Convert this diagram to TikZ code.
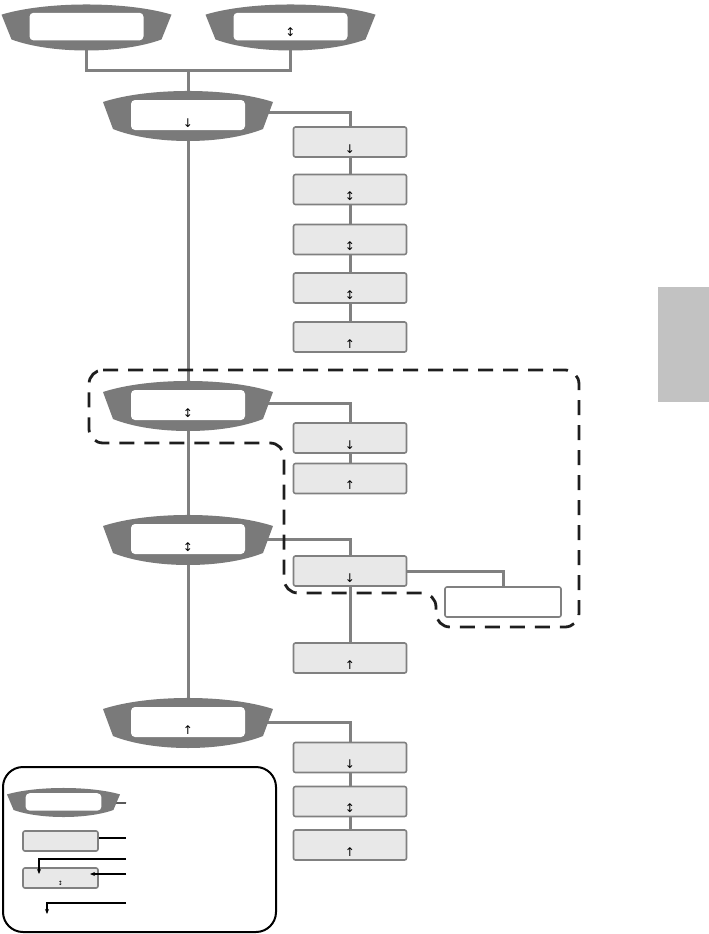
\documentclass[tikz,border=0pt]{standalone}
\usepackage{fontspec}
\setmainfont{DejaVu Sans}
\usetikzlibrary{calc,arrows.meta}
\pgfdeclarelayer{bg}
\pgfdeclarelayer{mid}
\pgfsetlayers{bg,mid,main}
\definecolor{dispgray}{RGB}{122,122,122}
\definecolor{linegray}{RGB}{128,128,128}
\definecolor{boxfill}{RGB}{232,232,232}
\definecolor{tabgray}{RGB}{194,194,194}
\definecolor{dashcol}{RGB}{30,30,30}
\newcommand\dispshape[3]{%
  \begin{scope}[shift={(#1.center)},xscale=#2,yscale=#3]
    \fill[dispgray] (-85,-14) .. controls (-40,-28.7) and (40,-28.7) .. (85,-14)
      -- (75,13) .. controls (35,29) and (-35,29) .. (-75,13) -- cycle;
    \fill[white,rounded corners=4pt] (-57,-16) rectangle (57,14);
  \end{scope}}
\newcommand\arr[1]{\raisebox{-11pt}[0pt][0pt]{#1}}
\newcommand\smarr[1]{\raisebox{-7pt}[0pt][0pt]{#1}}
\tikzset{
  dispnode/.style={rectangle, inner sep=0pt, minimum width=170pt, minimum height=50pt, font=\fontsize{12}{12}\selectfont},
  menubox/.style={rectangle, rounded corners=2pt, draw=linegray, line width=1.6pt, fill=boxfill, minimum width=113pt, minimum height=30pt, inner sep=0pt, font=\fontsize{12}{12}\selectfont},
  subbox/.style={menubox, fill=white, minimum width=116pt},
  conn/.style={draw=linegray, line width=3pt},
  legline/.style={draw=black, line width=1.2pt},
  legarrow/.style={legline, -{Stealth[length=5pt,width=4pt]}},
  dashframe/.style={draw=dashcol, line width=2.8pt, dash pattern=on 15pt off 10pt, rounded corners=14pt},
}
\begin{document}
\begin{tikzpicture}[x=1pt,y=-1pt]
\useasboundingbox (0,0) rectangle (709,934);
% tab
\fill[tabgray] (658,287) rectangle (709,402);
% displays
\node[dispnode, minimum height=46pt] (dA) at (86.5,27.5) {};
\node[dispnode, minimum height=46pt] (dB) at (290.5,27.5) {\raisebox{-9pt}[0pt][0pt]{↕}};
\node[dispnode] (d2) at (188,116) {\arr{↓}};
\node[dispnode] (d3) at (188,406) {\arr{↕}};
\node[dispnode] (d4) at (188,540) {\arr{↕}};
\node[dispnode] (d5) at (188,723) {\arr{↑}};
% boxes
\node[menubox] (b11) at (350,142) {\arr{↓}};
\node[menubox] (b12) at (350,189.5) {\arr{↕}};
\node[menubox] (b13) at (350,239.5) {\arr{↕}};
\node[menubox] (b14) at (350,288) {\arr{↕}};
\node[menubox] (b15) at (350,337) {\arr{↑}};
\node[menubox] (b21) at (350,438) {\arr{↓}};
\node[menubox] (b22) at (350,478.5) {\arr{↑}};
\node[menubox] (b31) at (350,571) {\arr{↓}};
\node[subbox] (sb) at (503,602) {};
\node[menubox] (b32) at (350,658) {\arr{↑}};
\node[menubox] (b41) at (350,757.5) {\arr{↓}};
\node[menubox] (b42) at (350,801.5) {\arr{↕}};
\node[menubox] (b43) at (350,845) {\arr{↑}};
% legend
\draw[black, line width=2pt, rounded corners=20pt] (3,767) rectangle (276,932);
\node[dispnode, minimum width=113pt, minimum height=29pt] (ld) at (63.5,802.5) {};
\node[menubox, minimum width=75pt, minimum height=20pt] (lb1) at (60.5,841) {};
\node[menubox, minimum width=75pt, minimum height=20pt, font=\fontsize{6}{6}\selectfont] (lb2) at (60.5,878) {\smarr{↕}};
\coordinate (l1) at (126,803);
\coordinate (l2) at (126,838);
\coordinate (l3) at (126,859);
\coordinate (l3e) at (39,874);
\coordinate (l4) at (126,874);
\coordinate (l4e) at (90,874);
\coordinate (l5) at (126,903);
\coordinate (l5e) at (47,914);
\coordinate (j) at (188,71);
\begin{pgfonlayer}{bg}
  \draw[conn] (dA.center) |- (j) -| (dB.center);
  \draw[conn] (j) -- (d2.center) -- (d3.center) -- (d4.center) -- (d5.center);
  \draw[conn] ($(d2.center)+(0,-4)$) -| (b11.center);
  \draw[conn] (b11.center) -- (b12.center) -- (b13.center) -- (b14.center) -- (b15.center);
  \draw[conn] ($(d3.center)+(0,-3)$) -| (b21.center);
  \draw[conn] (b21.center) -- (b22.center);
  \draw[conn] ($(d4.center)+(0,-1)$) -| (b31.center);
  \draw[conn] (b31.center) -- (b32.center);
  \draw[conn] (b31.center) -| (sb.center);
  \draw[conn] ($(d5.center)+(0,-1)$) -| (b41.center);
  \draw[conn] (b41.center) -- (b42.center) -- (b43.center);
  \draw[legline] (ld.center) -- (l1);
  \draw[legline] ($(lb1.center)+(0,-3)$) -- (l2);
\end{pgfonlayer}
\begin{pgfonlayer}{mid}
  \dispshape{dA}{1.0}{0.92}
  \dispshape{dB}{1.0}{0.92}
  \dispshape{d2}{1}{1}
  \dispshape{d3}{1}{1}
  \dispshape{d4}{1}{1}
  \dispshape{d5}{1}{1}
  \dispshape{ld}{0.665}{0.58}
\end{pgfonlayer}
\draw[legarrow] (l3) -| (l3e);
\draw[legarrow] (l4) -- (l4e);
\draw[legarrow] (l5) -| (l5e);
% dashed frame
\draw[dashframe] (89,370) -- (579,370) -- (579,627) -- (436,627) -- (436,593) -- (284,593) -- (284,443) -- (89,443) -- cycle;
\end{tikzpicture}
\end{document}
